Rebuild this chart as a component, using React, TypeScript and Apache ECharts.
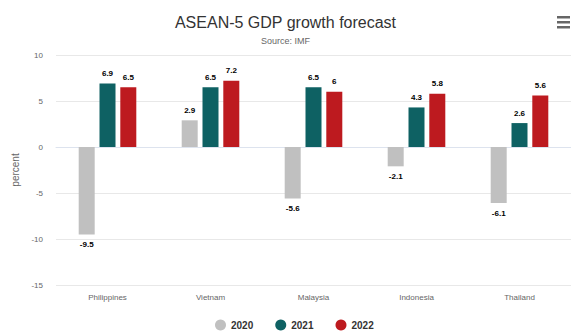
import React, { useEffect, useRef } from "react";
import * as echarts from "echarts";

const categories = ["Philippines", "Vietnam", "Malaysia", "Indonesia", "Thailand"];
const years = ["2020", "2021", "2022"];
const values2020 = [-9.5, 2.9, -5.6, -2.1, -6.1];
const values2021 = [6.9, 6.5, 6.5, 4.3, 2.6];
const values2022 = [6.5, 7.2, 6, 5.8, 5.6];
const colors = ["#c0c0c0", "#0e6163", "#bd1a1f"];

export default function App() {
  const ref = useRef<HTMLDivElement>(null);
  useEffect(() => {
    document.body.style.margin = "0";
    document.body.style.overflow = "hidden";
    if (!ref.current) return;
    const chart = echarts.init(ref.current, undefined, { renderer: "svg" });
    const mk = (vals: number[]) =>
      vals.map((v) => ({ value: v, label: { position: v < 0 ? "bottom" : "top" } }));
    const allVals = [values2020, values2021, values2022];
    chart.setOption({
      animation: false,
      backgroundColor: "#ffffff",
      textStyle: { fontFamily: "Arial, Liberation Sans, sans-serif" },
      title: {
        text: "ASEAN-5 GDP growth forecast",
        subtext: "Source: IMF",
        left: "center",
        top: 9,
        itemGap: 6,
        textStyle: { fontSize: 16, fontWeight: "normal", color: "#333333" },
        subtextStyle: { fontSize: 9, color: "#666666" },
      },
      legend: {
        top: 317,
        left: 213,
        icon: "circle",
        itemWidth: 11,
        itemHeight: 11,
        itemGap: 22,
        padding: 2,
        textStyle: { fontSize: 10, color: "#333333", fontWeight: "bold", lineHeight: 12 },
        data: years,
      },
      grid: { left: 56, right: -2, top: 55, bottom: 47 },
      xAxis: {
        type: "category",
        data: categories,
        axisLine: { show: true, lineStyle: { color: "#dde3ee" } },
        axisTick: { show: false },
        axisLabel: { fontSize: 8, color: "#666666", margin: 8 },
      },
      yAxis: {
        type: "value",
        min: -15,
        max: 10,
        interval: 5,
        name: "percent",
        nameLocation: "middle",
        nameGap: 32,
        nameTextStyle: { fontSize: 10, color: "#666666" },
        axisLabel: { fontSize: 8, color: "#666666", margin: 13 },
        splitLine: { lineStyle: { color: "#e8e8e8" } },
        axisLine: { show: false },
        axisTick: { show: false },
      },
      graphic: [
        { type: "rect", shape: { x: 557, y: 16, width: 13, height: 2.5 }, style: { fill: "#666666" } },
        { type: "rect", shape: { x: 557, y: 21, width: 13, height: 2.5 }, style: { fill: "#666666" } },
        { type: "rect", shape: { x: 557, y: 26, width: 13, height: 2.5 }, style: { fill: "#666666" } },
      ],
      series: years.map((y, i) => ({
        name: y,
        type: "bar",
        data: mk(allVals[i]),
        barWidth: 16,
        barGap: "30%",
        itemStyle: { color: colors[i] },
        label: {
          show: true,
          fontSize: 8,
          fontWeight: "bold",
          color: "#000000",
          distance: 6,
          textBorderColor: "#ffffff",
          textBorderWidth: 1,
        },
      })),
    });
    return () => chart.dispose();
  }, []);
  return <div ref={ref} style={{ width: 571, height: 332 }} />;
}
